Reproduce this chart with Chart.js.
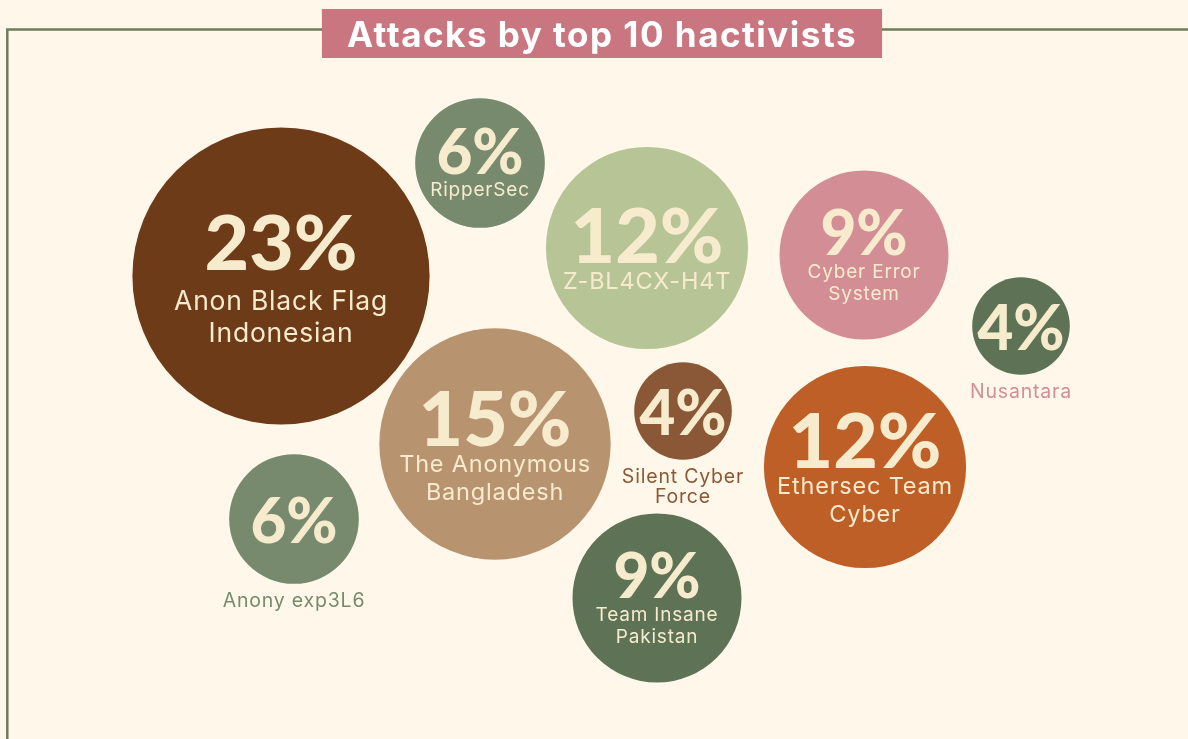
<!DOCTYPE html>
<html>
<head>
<meta charset="utf-8">
<title>Attacks by top 10 hactivists</title>
<script src="https://cdn.jsdelivr.net/npm/chart.js@4/dist/chart.umd.min.js"></script>
<style>
  html, body { margin: 0; padding: 0; background: #FFF8EA; }
  #wrap { width: 1188px; height: 739px; }
</style>
</head>
<body>
<div id="wrap"><canvas id="hacktivistas"></canvas></div>
<script>
const TITULO = 'Attacks by top 10 hactivists';

// grupos (nome quebrado em linhas) e percentual de ataques
const grupos = [
    ['Anon Black Flag', 'Indonesian'],
    ['RipperSec'],
    ['Z-BL4CX-H4T'],
    ['Cyber Error', 'System'],
    ['Nusantara'],
    ['The Anonymous', 'Bangladesh'],
    ['Silent Cyber', 'Force'],
    ['Ethersec Team', 'Cyber'],
    ['Anony exp3L6'],
    ['Team Insane', 'Pakistan']
];
const percentuais = [23, 6, 12, 9, 4, 15, 4, 12, 6, 9];

// posicao das bolhas no layout (eixos escondidos 0..1188 / 0..739)
const posX = [281, 480, 647, 864, 1021, 495, 683, 865, 294, 657];
const posY = [276, 163, 248, 255, 326, 444, 411, 467, 519, 598];

const cores = ['#6E3B18', '#778A6D', '#B7C496', '#D38E95', '#5E7356',
               '#B89370', '#8A5836', '#BE5F27', '#778A6D', '#5E7356'];
// nome fora da bolha (bolhas pequenas) e a cor do texto nesse caso
const nomeFora = [false, false, false, false, true, false, true, false, true, false];
const corNomeFora = ['', '', '', '', '#D38E95', '', '#8A5836', '', '#778A6D', ''];

const CREME = '#F7EBCD';
const FONTE = 'Inter, "Open Sans", sans-serif';
const FONTE_NUM = 'Lato, Inter, sans-serif';

// raio em px a partir do percentual
function raio(p) {
    return 35.7 * Math.sqrt(p) - 22.6;
}

const pluginFundo = {
    id: 'fundo',
    beforeDraw(chart) {
        const ctx = chart.ctx;
        ctx.save();
        ctx.fillStyle = '#FFF8EA';
        ctx.fillRect(0, 0, chart.width, chart.height);

        // moldura verde
        ctx.strokeStyle = '#6B7B5C';
        ctx.lineWidth = 2.5;
        ctx.beginPath();
        ctx.moveTo(7.3, chart.height);
        ctx.lineTo(7.3, 29.5);
        ctx.lineTo(chart.width, 29.5);
        ctx.stroke();

        // titulo com caixa rosa
        ctx.font = 'bold 35px ' + FONTE;
        ctx.letterSpacing = '1.5px';
        const larg = ctx.measureText(TITULO).width;
        const w = larg + 50;
        ctx.fillStyle = '#C97680';
        ctx.fillRect(602 - w / 2, 9, w, 49);
        ctx.fillStyle = '#FFFFFF';
        ctx.textAlign = 'center';
        ctx.textBaseline = 'alphabetic';
        ctx.fillText(TITULO, 602, 47);
        ctx.restore();
    }
};

const pluginTextos = {
    id: 'textos',
    afterDatasetsDraw(chart) {
        const ctx = chart.ctx;
        const meta = chart.getDatasetMeta(0);
        ctx.save();
        ctx.textAlign = 'center';
        meta.data.forEach((el, i) => {
            const r = el.options.radius;
            const cx = el.x, cy = el.y;
            const linhas = grupos[i];
            const fn = r >= 100 ? 77 : 62;
            const cap = fn * 0.72;
            const txtPct = percentuais[i] + '%';

            if (nomeFora[i]) {
                ctx.fillStyle = CREME;
                ctx.letterSpacing = '0px';
                ctx.font = '900 ' + fn + 'px ' + FONTE_NUM;
                ctx.textBaseline = 'alphabetic';
                ctx.fillText(txtPct, cx, cy + 2 + cap / 2);
                ctx.fillStyle = corNomeFora[i];
                ctx.letterSpacing = '0.8px';
                ctx.font = '19.5px ' + FONTE;
                ctx.textBaseline = 'middle';
                linhas.forEach((l, k) => ctx.fillText(l, cx, cy + r + 17 + k * 20));
                return;
            }

            const fl = r >= 140 ? 26.5 : (r >= 100 ? 23.5 : 19);
            const lh = fl * 1.2;
            const gap = r >= 140 ? 16 : 5;
            const altura = cap + gap + linhas.length * lh;
            const topo = cy + r * 0.04 - altura / 2;

            ctx.fillStyle = CREME;
            ctx.letterSpacing = '0px';
            ctx.font = '900 ' + fn + 'px ' + FONTE_NUM;
            ctx.textBaseline = 'alphabetic';
            ctx.fillText(txtPct, cx, topo + cap);
            ctx.letterSpacing = '0.8px';
            ctx.font = fl + 'px ' + FONTE;
            ctx.textBaseline = 'middle';
            linhas.forEach((l, k) => ctx.fillText(l, cx, topo + cap + gap + (k + 0.5) * lh));
        });
        ctx.restore();
    }
};

new Chart(document.getElementById('hacktivistas').getContext('2d'), {
    type: 'bubble',
    data: {
        labels: grupos.map(g => g.join(' ')),
        datasets: [{
            label: 'Attacks',
            data: percentuais.map((p, i) => ({ x: posX[i], y: posY[i], r: raio(p) })),
            backgroundColor: cores,
            hoverBackgroundColor: cores,
            borderWidth: 0,
            hoverBorderWidth: 0,
            clip: false
        }]
    },
    options: {
        responsive: true,
        maintainAspectRatio: false,
        animation: false,
        layout: { padding: 0, autoPadding: false },
        scales: {
            x: { type: 'linear', min: 0, max: 1188, display: false },
            y: { type: 'linear', min: 0, max: 739, reverse: true, display: false }
        },
        plugins: {
            legend: { display: false },
            tooltip: { enabled: false }
        }
    },
    plugins: [pluginFundo, pluginTextos]
});
</script>
</body>
</html>
